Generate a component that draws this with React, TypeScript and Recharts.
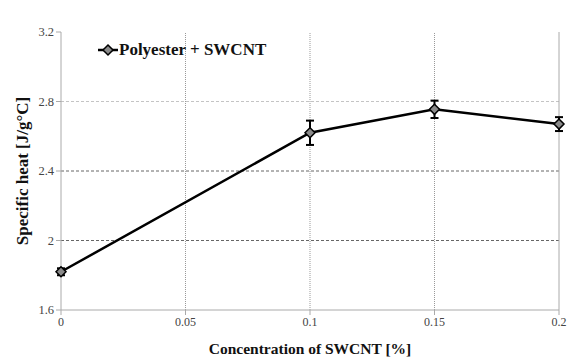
import {
  ErrorBar,
  Legend,
  Line,
  LineChart,
  ReferenceLine,
  XAxis,
  YAxis,
} from 'recharts';

const concentrations = [0, 0.1, 0.15, 0.2];
const specificHeat = [1.82, 2.62, 2.755, 2.67];
const heatError = [0.02, 0.07, 0.05, 0.04];

const xTicks = [0, 0.05, 0.1, 0.15, 0.2];
const yTicks = [1.6, 2, 2.4, 2.8, 3.2];
const xGrid = [0.05, 0.1, 0.15];
const yGrid = [2, 2.4, 2.8];

const SERIES_NAME = 'Polyester + SWCNT';

const data = concentrations.map((c, i) => ({
  c,
  cp: specificHeat[i],
  err: heatError[i],
}));

const serif = '"Liberation Serif", "DejaVu Serif", serif';

function Diamond({ cx, cy }: { cx?: number; cy?: number }) {
  if (cx == null || cy == null) return null;
  const r = 5;
  return (
    <polygon
      points={`${cx},${cy - r} ${cx + r},${cy} ${cx},${cy + r} ${cx - r},${cy}`}
      fill="#8a8a8a"
      stroke="#000"
      strokeWidth={1.5}
    />
  );
}

function LegendBox() {
  return (
    <div style={{ display: 'flex', alignItems: 'center', fontFamily: serif }}>
      <svg width={22} height={14}>
        <line x1={1} y1={7} x2={21} y2={7} stroke="#000" strokeWidth={2.5} />
        <Diamond cx={11} cy={7} />
      </svg>
      <span style={{ fontWeight: 'bold', fontSize: 17, color: '#111' }}>{SERIES_NAME}</span>
    </div>
  );
}

// y title drawn by hand so it sits centred on the plot height
function YTitle({ viewBox }: { viewBox?: { x: number; y: number; height: number } }) {
  if (!viewBox) return null;
  const cx = 22;
  const cy = viewBox.y + viewBox.height / 2;
  return (
    <text
      x={cx}
      y={cy}
      transform={`rotate(-90 ${cx} ${cy})`}
      textAnchor="middle"
      dominantBaseline="central"
      fill="#111"
      fontSize={17}
      fontWeight="bold"
      fontFamily={serif}
    >
      Specific heat [J/g°C]
    </text>
  );
}

export default function App() {
  const topGrid = yGrid[yGrid.length - 1];
  return (
    <div style={{ position: 'absolute', left: 0, top: 0, background: '#fff' }}>
      <LineChart
        width={574}
        height={360}
        data={data}
        margin={{ top: 12, right: 15, left: 0, bottom: 0 }}
      >
        {yGrid.map((v) => (
          <ReferenceLine
            key={`y${v}`}
            y={v}
            stroke={v === topGrid ? '#c4c4c4' : '#666'}
            strokeDasharray="3 2"
            strokeWidth={1}
          />
        ))}
        {xGrid.map((v) => (
          <ReferenceLine key={`x${v}`} x={v} stroke="#999" strokeDasharray="1 1" strokeWidth={1} />
        ))}
        <ReferenceLine x={0.2} stroke="#aaa" strokeWidth={1} />
        <XAxis
          type="number"
          dataKey="c"
          domain={[0, 0.2]}
          ticks={xTicks}
          height={50}
          stroke="#aaa"
          tickSize={5}
          tick={{ fill: '#444', fontSize: 12, fontFamily: serif }}
          label={{
            value: 'Concentration of SWCNT [%]',
            position: 'insideBottom',
            offset: 6,
            style: { fill: '#111', fontSize: 15.5, fontWeight: 'bold', fontFamily: serif },
          }}
        />
        <YAxis
          type="number"
          domain={[1.6, 3.2]}
          ticks={yTicks}
          width={61}
          stroke="#aaa"
          tickSize={5}
          tick={{ fill: '#444', fontSize: 12.5, fontFamily: serif }}
          label={<YTitle />}
        />
        <Legend
          verticalAlign="top"
          align="left"
          content={() => <LegendBox />}
          wrapperStyle={{ top: 40, left: 97, width: 'auto' }}
        />
        <Line
          dataKey="cp"
          name={SERIES_NAME}
          stroke="#000"
          strokeWidth={2.5}
          dot={<Diamond />}
          activeDot={false}
          isAnimationActive={false}
        >
          <ErrorBar dataKey="err" width={4} stroke="#000" strokeWidth={2} direction="y" />
        </Line>
      </LineChart>
    </div>
  );
}
